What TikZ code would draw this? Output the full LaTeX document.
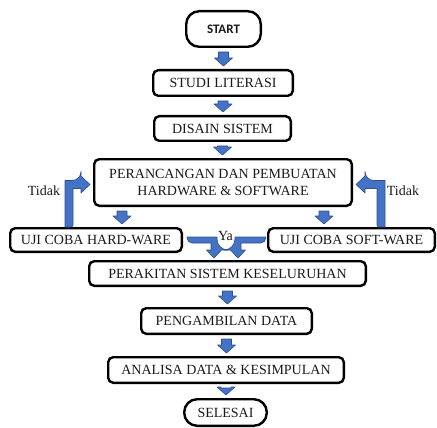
\documentclass[tikz,border=0pt]{standalone}
\usepackage{fontspec}
\setmainfont{Liberation Serif}
\newfontfamily\carlito{Carlito}
\usetikzlibrary{calc}
\definecolor{arrfill}{HTML}{4472C4}
\definecolor{arrline}{HTML}{2F528F}
\definecolor{txt}{HTML}{1A1A1A}
\tikzset{
 box/.style={draw=black, line width=2.4pt, rounded corners=5pt, fill=white, inner sep=0pt,
   font=\fontsize{14}{16.5}\selectfont, align=center, text=txt},
 term/.style={box, rounded corners=13pt},
 blk/.style={fill=arrfill, draw=arrline, line width=0.6pt, line join=round},
 lbl/.style={font=\fontsize{14}{16}\selectfont, inner sep=0pt, text=txt}
}
% straight block arrow pointing down, from upper point #1 to lower point #2
\newcommand\blkdown[2]{\filldraw[blk] let \p1=#1, \p2=#2 in
  (\x1-5pt,\y1-4pt) -- (\x1+5pt,\y1-4pt) -- (\x1+5pt,\y2+11pt) -- (\x1+9pt,\y2+11pt)
  -- (\x1,\y2+3pt) -- (\x1-9pt,\y2+11pt) -- (\x1-5pt,\y2+11pt) -- cycle;}
% bent arrow: up from #1, then right to tip #2
\newcommand\bentright[2]{\filldraw[blk] let \p1=#1, \p2=#2 in
  (\x1-4pt,\y1) -- (\x1-4pt,\y2+4pt) [rounded corners=9pt] -- (\x2-9pt,\y2+4pt) [sharp corners]
  -- (\x2-9pt,\y2+8.5pt) -- (\x2,\y2) -- (\x2-9pt,\y2-8.5pt) -- (\x2-9pt,\y2-4pt)
  -- (\x1+4pt,\y2-4pt) [rounded corners=2pt] -- (\x1+4pt,\y1) [sharp corners] -- cycle;}
% bent arrow: up from #1, then left to tip #2
\newcommand\bentleft[2]{\filldraw[blk] let \p1=#1, \p2=#2 in
  (\x1+4pt,\y1) -- (\x1+4pt,\y2+4pt) [rounded corners=9pt] -- (\x2+9pt,\y2+4pt) [sharp corners]
  -- (\x2+9pt,\y2+8.5pt) -- (\x2,\y2) -- (\x2+9pt,\y2-8.5pt) -- (\x2+9pt,\y2-4pt)
  -- (\x1-4pt,\y2-4pt) [rounded corners=2pt] -- (\x1-4pt,\y1) [sharp corners] -- cycle;}
% curved arrow: right from #1, then down to tip #2
\newcommand\curvedownR[2]{\filldraw[blk] let \p1=#1, \p2=#2 in
  (\x1,\y1+3pt) -- (\x2+3pt,\y1+3pt) [rounded corners=11pt] -- (\x2+3pt,\y2+8pt) [sharp corners]
  -- (\x2+7.5pt,\y2+8pt) -- (\x2,\y2) -- (\x2-7.5pt,\y2+8pt) -- (\x2-3pt,\y2+8pt)
  -- (\x2-3pt,\y1-3pt) [rounded corners=5pt] -- (\x1,\y1-3pt) [sharp corners] -- cycle;}
% curved arrow: left from #1, then down to tip #2
\newcommand\curvedownL[2]{\filldraw[blk] let \p1=#1, \p2=#2 in
  (\x1,\y1+3pt) -- (\x2-3pt,\y1+3pt) [rounded corners=11pt] -- (\x2-3pt,\y2+8pt) [sharp corners]
  -- (\x2-7.5pt,\y2+8pt) -- (\x2,\y2) -- (\x2+7.5pt,\y2+8pt) -- (\x2+3pt,\y2+8pt)
  -- (\x2+3pt,\y1-3pt) [rounded corners=5pt] -- (\x1,\y1-3pt) [sharp corners] -- cycle;}
\begin{document}
\begin{tikzpicture}[x=1pt,y=-1pt]
\useasboundingbox (0,0) rectangle (437,428);
\node[term, minimum width=74.6pt, minimum height=35.6pt, font=\carlito\bfseries\fontsize{13}{15}\selectfont] (start) at (223.5,29) {START};
\node[box, minimum width=139.6pt, minimum height=25.6pt] (studi) at (223,83) {STUDI LITERASI};
\node[box, minimum width=136.6pt, minimum height=24.6pt] (disain) at (222.5,128.5) {DISAIN SISTEM};
\node[box, minimum width=257.6pt, minimum height=46.6pt] (peran) at (223,182.5) {PERANCANGAN DAN PEMBUATAN\\HARDWARE \& SOFTWARE};
\node[box, minimum width=171.6pt, minimum height=23.6pt] (hw) at (96,240) {UJI COBA HARD-WARE};
\node[box, minimum width=166.6pt, minimum height=23.6pt] (sw) at (351.5,240) {UJI COBA SOFT-WARE};
\node[box, minimum width=276.6pt, minimum height=24.6pt] (perak) at (227.5,273.5) {PERAKITAN SISTEM KESELURUHAN};
\node[box, minimum width=170.6pt, minimum height=25.6pt] (peng) at (226.5,321) {PENGAMBILAN DATA};
\node[box, minimum width=235.6pt, minimum height=25.6pt] (anal) at (226,370) {ANALISA DATA \& KESIMPULAN};
\node[term, minimum width=82.6pt, minimum height=26.6pt] (sel) at (225.5,412.5) {SELESAI};

\node[lbl] (tidakL) at (44,191) {Tidak};
\node[lbl] (tidakR) at (403,191) {Tidak};
\node[lbl] (ya) at (225.5,236) {Ya};

\blkdown{(start.south)}{(studi.north)}
\blkdown{(studi.south)}{(disain.north)}
\blkdown{(disain.south)}{(peran.north)}
\coordinate (la) at ($(peran.south)+(-101,0)$);
\coordinate (ra) at ($(peran.south)+(101,0)$);
\blkdown{(la)}{(la |- hw.north)}
\blkdown{(ra)}{(ra |- sw.north)}
\blkdown{(perak.south)}{(peng.north)}
\blkdown{(peng.south)}{(anal.north)}
\blkdown{(anal.south)}{(sel.north)}

\coordinate (lb) at ($(hw.north)+(-27,0)$);
\coordinate (lt) at ($(peran.west)+(-3,2)$);
\bentright{(lb)}{(lt)}
\coordinate (rb) at ($(sw.north)+(29.5,0)$);
\coordinate (rt) at ($(peran.east)+(3,2)$);
\bentleft{(rb)}{(rt)}

\coordinate (cs1) at ($(hw.east)+(4,0)$);
\coordinate (ct1) at ($(perak.north)+(-13.5,-2)$);
\curvedownR{(cs1)}{(ct1)}
\coordinate (cs2) at ($(sw.west)+(-1.2,0)$);
\coordinate (ct2) at ($(perak.north)+(10.5,-2)$);
\curvedownL{(cs2)}{(ct2)}
\end{tikzpicture}
\end{document}
